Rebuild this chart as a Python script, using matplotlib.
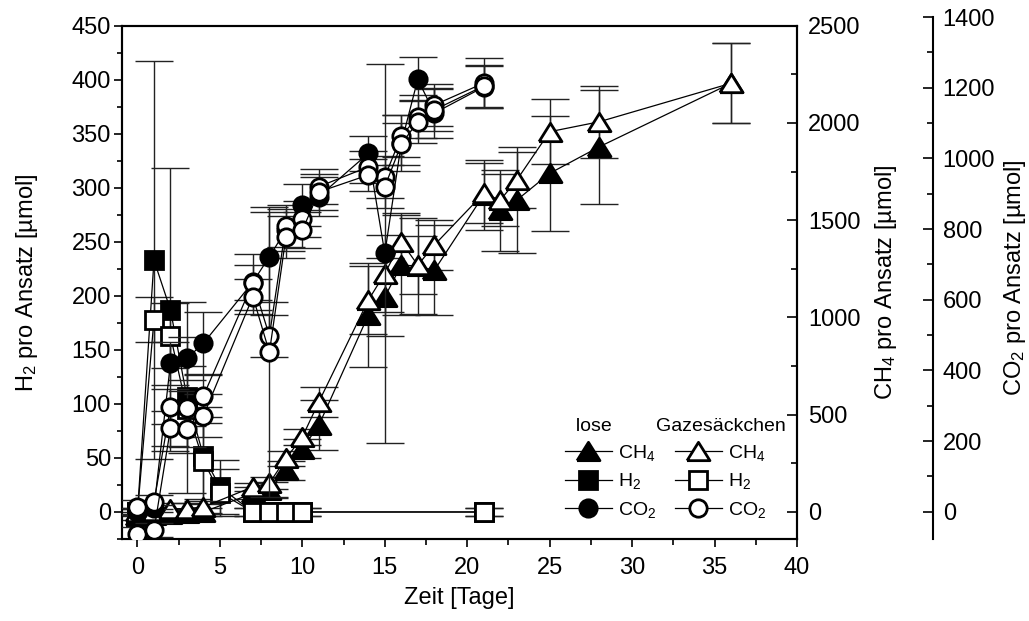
import numpy as np
import matplotlib
matplotlib.use('Agg')
import matplotlib.pyplot as plt
from matplotlib.ticker import MultipleLocator
from matplotlib.lines import Line2D

plt.rcParams['font.family'] = ['Liberation Sans', 'DejaVu Sans']
plt.rcParams['mathtext.default'] = 'regular'
plt.rcParams['font.size'] = 17

# H2 (Quadrate, linke Achse) in umol
tage_h2 = [0, 1, 2, 3, 4, 5, 7, 8, 9, 10, 21]
h2_lose = [0, 233, 187, 106, 52, 23, 0, 0, 0, 0, 0]
h2_lose_err = [3, 184, 131, 88, 45, 25, 4, 4, 4, 4, 4]
h2_gaze = [0, 178, 163, 95, 47, 18, 0, 0, 0, 0, 0]
h2_gaze_err = [3, 21, 30, 40, 35, 22, 4, 4, 4, 4, 4]

# CH4 (Dreiecke, rechte Achse) in umol
tage_ch4 = [0, 1, 2, 3, 4, 7, 8, 9, 10, 11, 14, 15, 16, 17, 18, 21, 22, 23, 25, 28, 36]
ch4_lose = [-20, -15, -10, -5, 0, 96, 112, 214, 326, 446, 1012, 1106, 1269, 1265,
            1242, 1630, 1551, 1603, 1741, 1877, 2204]
ch4_lose_err = [20, 20, 20, 20, 20, 30, 40, 50, 50, 128, 266, 200, 257, 245,
                231, 180, 209, 273, 296, 295, 205]
ch4_gaze = [0, 5, 17, 17, 26, 129, 148, 275, 386, 566, 1089, 1226, 1389, 1269,
            1372, 1638, 1603, 1706, 1955, 2006, 2204]
ch4_gaze_err = [20, 20, 30, 30, 30, 20, 30, 40, 40, 77, 175, 200, 150, 150,
                130, 154, 134, 144, 168, 184, 205]

# CO2 (Kreise, zweite rechte Achse) in umol
tage_co2 = [0, 1, 2, 3, 4, 7, 8, 9, 10, 11, 14, 15, 16, 17, 18, 21]
co2_lose = [0, 10, 420, 434, 477, 650, 722, 797, 868, 892, 1014, 731, 1043, 1224, 1128, 1202]
co2_lose_err = [10, 10, 60, 60, 88, 80, 127, 60, 60, 55, 50, 535, 80, 62, 70, 60]
co2_gaze_a = [14, 27, 297, 293, 328, 648, 498, 808, 828, 920, 976, 948, 1063, 1118, 1151, 1213]
co2_gaze_a_err = [20, 20, 50, 50, 60, 50, 60, 60, 50, 50, 45, 60, 60, 60, 60, 70]
co2_gaze_b = [-63, -52, 236, 233, 272, 609, 451, 777, 797, 905, 953, 920, 1040, 1104, 1137, 1205]
co2_gaze_b_err = [20, 20, 50, 50, 60, 50, 410, 60, 50, 50, 45, 60, 60, 60, 60, 60]

# gestauchtes Dreieck als Marker
tri = [(-1.25, -1), (1.25, -1), (0, 1), (-1.25, -1)]


def series(axis, x, y, err, marker, filled, ms):
    axis.errorbar(x, y, yerr=err, fmt='none', ecolor='#222222', elinewidth=1.0,
                  capsize=14, capthick=1.0, zorder=2)
    axis.plot(x, y, '-', color='k', lw=0.9, marker=marker, ms=ms,
              mfc='k' if filled else 'w', mec='k', mew=2.0, zorder=3)


W, H = 1029, 621
fig = plt.figure(figsize=(W / 100, H / 100), dpi=100)
L, R, B, T = 122, 797, 539, 25.7
ax = fig.add_axes([L / W, 1 - B / H, (R - L) / W, (B - T) / H])
ax2 = ax.twinx()
T3 = 17
ax3 = fig.add_axes([L / W, 1 - B / H, (R - L) / W, (B - T3) / H])

series(ax, tage_h2, h2_lose, h2_lose_err, 's', True, 12.5)
series(ax, tage_h2, h2_gaze, h2_gaze_err, 's', False, 12.5)
series(ax2, tage_ch4, ch4_lose, ch4_lose_err, tri, True, 16.5)
series(ax2, tage_ch4, ch4_gaze, ch4_gaze_err, tri, False, 16.5)
series(ax3, tage_co2, co2_lose, co2_lose_err, 'o', True, 12.5)
series(ax3, tage_co2, co2_gaze_a, co2_gaze_a_err, 'o', False, 12.5)
series(ax3, tage_co2, co2_gaze_b, co2_gaze_b_err, 'o', False, 12.5)

# Achsen
ax.set_xlim(-0.94, 40)
ax.set_ylim(-25, 450)
ax2.set_ylim(-25 * 2500 / 450, 2500)
ax3.set_xlim(-0.94, 40)
ax3.set_ylim(-77, 1400)

ax.xaxis.set_major_locator(MultipleLocator(5))
ax.xaxis.set_minor_locator(MultipleLocator(2.5))
ax.yaxis.set_major_locator(MultipleLocator(50))
ax.yaxis.set_minor_locator(MultipleLocator(25))
ax2.yaxis.set_major_locator(MultipleLocator(500))
ax2.yaxis.set_minor_locator(MultipleLocator(250))
ax3.yaxis.set_major_locator(MultipleLocator(200))
ax3.yaxis.set_minor_locator(MultipleLocator(100))

for a in (ax, ax2):
    for s in a.spines.values():
        s.set_linewidth(1.5)

ax.tick_params(axis='x', which='both', direction='out', top=False, pad=7, width=1.2)
ax.tick_params(axis='x', which='major', length=6)
ax.tick_params(axis='x', which='minor', length=4)
ax.tick_params(axis='y', which='both', direction='out', right=False, pad=2, width=1.2)
ax.tick_params(axis='y', which='major', length=6)
ax.tick_params(axis='y', which='minor', length=3.5)

ax2.tick_params(axis='x', which='both', direction='in', top=True, bottom=False,
                labeltop=False, labelbottom=False, width=1.2)
ax2.tick_params(axis='x', which='major', length=7)
ax2.tick_params(axis='x', which='minor', length=4)
ax2.tick_params(axis='y', which='both', direction='in', pad=8, width=1.2)
ax2.tick_params(axis='y', which='major', length=7)
ax2.tick_params(axis='y', which='minor', length=4)

ax3.patch.set_visible(False)
ax3.xaxis.set_visible(False)
for side in ('left', 'top', 'bottom'):
    ax3.spines[side].set_visible(False)
ax3.spines['right'].set_position(('axes', (933 - L) / (R - L)))
ax3.spines['right'].set_linewidth(1.5)
ax3.yaxis.tick_right()
ax3.yaxis.set_label_position('right')
ax3.tick_params(axis='y', which='both', direction='in', pad=7, width=1.2)
ax3.tick_params(axis='y', which='major', length=7)
ax3.tick_params(axis='y', which='minor', length=4)

ax.set_xlabel('Zeit [Tage]', labelpad=6)
ax.set_ylabel('H$_2$ pro Ansatz [µmol]')
ax2.set_ylabel('CH$_4$ pro Ansatz [µmol]')
ax3.set_ylabel('CO$_2$ pro Ansatz [µmol]')
ax.yaxis.set_label_coords((40 - L) / (R - L), 0.5)
ax2.yaxis.set_label_coords((873 - L) / (R - L), 0.5)
ax3.yaxis.set_label_coords((1002 - L) / (R - L), 0.5)

# Legende in zwei Spalten
def handle(marker, filled, ms):
    return Line2D([], [], color='k', lw=0.9, marker=marker, ms=ms,
                  mfc='k' if filled else 'w', mec='k', mew=2.0)

labels = ['CH$_4$', 'H$_2$', 'CO$_2$']
leg_opts = dict(frameon=False, fontsize=14, title_fontsize=14, handlelength=2.4,
                handletextpad=0.35, labelspacing=0.42, borderpad=0, borderaxespad=0)
leg1 = ax3.legend([handle(tri, True, 16.5), handle('s', True, 12.5), handle('o', True, 12.5)],
                  labels, title='  lose', loc='upper left', alignment='left',
                  bbox_to_anchor=(565 / W, 1 - 418 / H), bbox_transform=fig.transFigure,
                  **leg_opts)
ax3.add_artist(leg1)
ax3.legend([handle(tri, False, 16.5), handle('s', False, 12.5), handle('o', False, 12.5)],
           labels, title='Gazesäckchen', loc='upper left',
           bbox_to_anchor=(656 / W, 1 - 418 / H), bbox_transform=fig.transFigure,
           **leg_opts)

fig.savefig('out.png', dpi=100)
